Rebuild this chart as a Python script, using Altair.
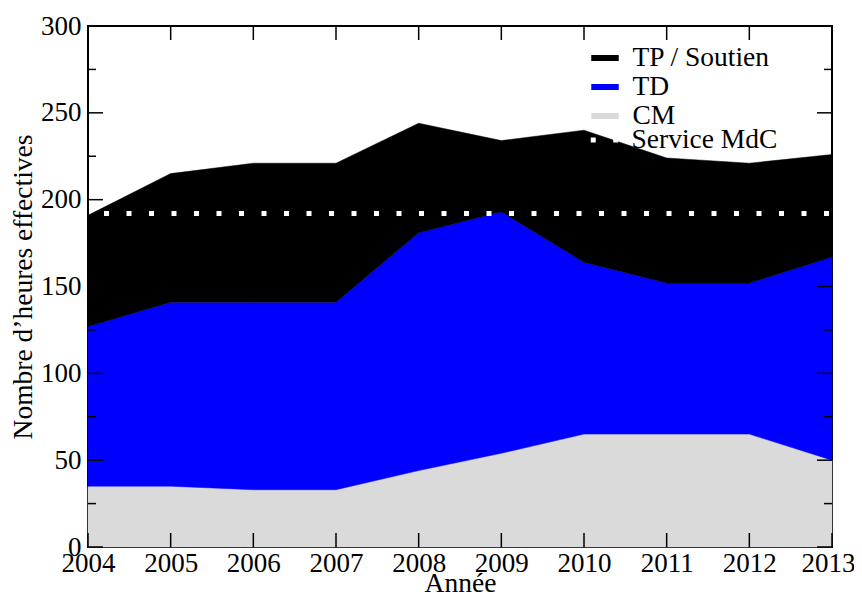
import altair as alt
import pandas as pd

# ---- data ----
years = [2004, 2005, 2006, 2007, 2008, 2009, 2010, 2011, 2012, 2013]
cm = [35, 35, 33, 33, 44, 54, 65, 65, 65, 50]
td = [92, 106, 108, 108, 137, 139, 99, 87, 87, 117]
tp = [64, 74, 80, 80, 63, 41, 76, 72, 69, 59]
service_mdc = [192]

area_names = ["TP / Soutien", "TD", "CM"]
area_colors = ["#000000", "#0000ff", "#dadada"]
line_name = ["Service MdC"]

y_major = [0, 50, 100, 150, 200, 250, 300]
y_minor = [25, 75, 125, 175, 225, 275]

FONT = "Liberation Serif, Times New Roman, Tinos, DejaVu Serif, serif"
W, H = 744, 521

rows = []
for i, yr in enumerate(years):
    rows.append({"year": yr, "series": "CM", "value": cm[i], "rank": 0})
    rows.append({"year": yr, "series": "TD", "value": td[i], "rank": 1})
    rows.append({"year": yr, "series": "TP / Soutien", "value": tp[i], "rank": 2})
df = pd.DataFrame(rows)

xscale = alt.Scale(domain=[2004, 2013], nice=False, zero=False)
yscale = alt.Scale(domain=[0, 300], nice=False)

legend_common = dict(
    title=None, orient="none", legendX=500,
    symbolType="stroke", symbolSize=756, clipHeight=27.3,
    labelFont=FONT, labelFontSize=27.5, labelColor="black",
    labelOffset=10.5, rowPadding=0, padding=0,
)
area_legend = alt.Legend(legendY=18.3, symbolStrokeWidth=6, **legend_common)
area_scale = alt.Scale(domain=area_names, range=area_colors)

areas = alt.Chart(df).mark_area(opacity=1, interpolate="linear", strokeWidth=0.5).encode(
    x=alt.X("year:Q", scale=xscale,
            axis=alt.Axis(values=years, format="d", title="Année",
                          labelPadding=3, labelFlush=False,
                          labelOffset={"condition": {"test": "datum.value == 2013", "value": -4},
                                       "value": 0},
                          titleBaseline="alphabetic", titleY=44)),
    y=alt.Y("value:Q", stack="zero", scale=yscale,
            axis=alt.Axis(values=y_major, title="Nombre d’heures effectives",
                          labelPadding=7, titlePadding=3)),
    color=alt.Color("series:N", scale=area_scale, legend=area_legend),
    stroke=alt.Stroke("series:N", scale=area_scale, legend=area_legend),
    order=alt.Order("rank:Q", sort="ascending"),
)

service = alt.Chart(pd.DataFrame({"v": service_mdc, "name": line_name})).mark_rule(
    color="white", strokeWidth=5, strokeDashOffset=-3
).encode(
    y=alt.Y("v:Q", scale=yscale),
    strokeDash=alt.StrokeDash("name:N",
                              scale=alt.Scale(domain=line_name, range=[[5, 17.5]]),
                              legend=alt.Legend(legendY=100.3, symbolStrokeWidth=5,
                                                symbolStrokeColor="white",
                                                **legend_common)),
)

xt = pd.DataFrame({"year": years})
x_ticks_bottom = alt.Chart(xt).mark_rule(color="black", strokeWidth=1.5).encode(
    x=alt.X("year:Q", scale=xscale), y=alt.value(H), y2=alt.value(H - 14))
x_ticks_top = alt.Chart(xt).mark_rule(color="black", strokeWidth=1.5).encode(
    x=alt.X("year:Q", scale=xscale), y=alt.value(0), y2=alt.value(14))

ym = pd.DataFrame({"v": y_major})
yn = pd.DataFrame({"v": y_minor})
y_ticks_left = alt.Chart(ym).mark_rule(color="black", strokeWidth=1.5).encode(
    y=alt.Y("v:Q", scale=yscale), x=alt.value(0), x2=alt.value(15))
y_ticks_right = alt.Chart(ym).mark_rule(color="black", strokeWidth=1.5).encode(
    y=alt.Y("v:Q", scale=yscale), x=alt.value(W), x2=alt.value(W - 15))
y_minor_left = alt.Chart(yn).mark_rule(color="black", strokeWidth=1.5).encode(
    y=alt.Y("v:Q", scale=yscale), x=alt.value(0), x2=alt.value(8))
y_minor_right = alt.Chart(yn).mark_rule(color="black", strokeWidth=1.5).encode(
    y=alt.Y("v:Q", scale=yscale), x=alt.value(W), x2=alt.value(W - 8))

chart = alt.layer(
    areas, service, x_ticks_bottom, x_ticks_top,
    y_ticks_left, y_ticks_right, y_minor_left, y_minor_right
).properties(
    width=W, height=H,
    autosize=alt.AutoSizeParams(type="none"),
    padding={"left": 80, "top": 18, "right": 22, "bottom": 46},
    background="white",
).resolve_legend(
    strokeDash="independent"
).configure_view(
    stroke="black", strokeWidth=2
).configure_axis(
    domain=False, ticks=False, grid=False,
    labelFont=FONT, labelFontSize=27, labelColor="black",
    titleFont=FONT, titleFontSize=27.5, titleFontWeight="normal", titleColor="black",
)

chart.save("out.html", embed_options={"renderer": "svg", "actions": False})
